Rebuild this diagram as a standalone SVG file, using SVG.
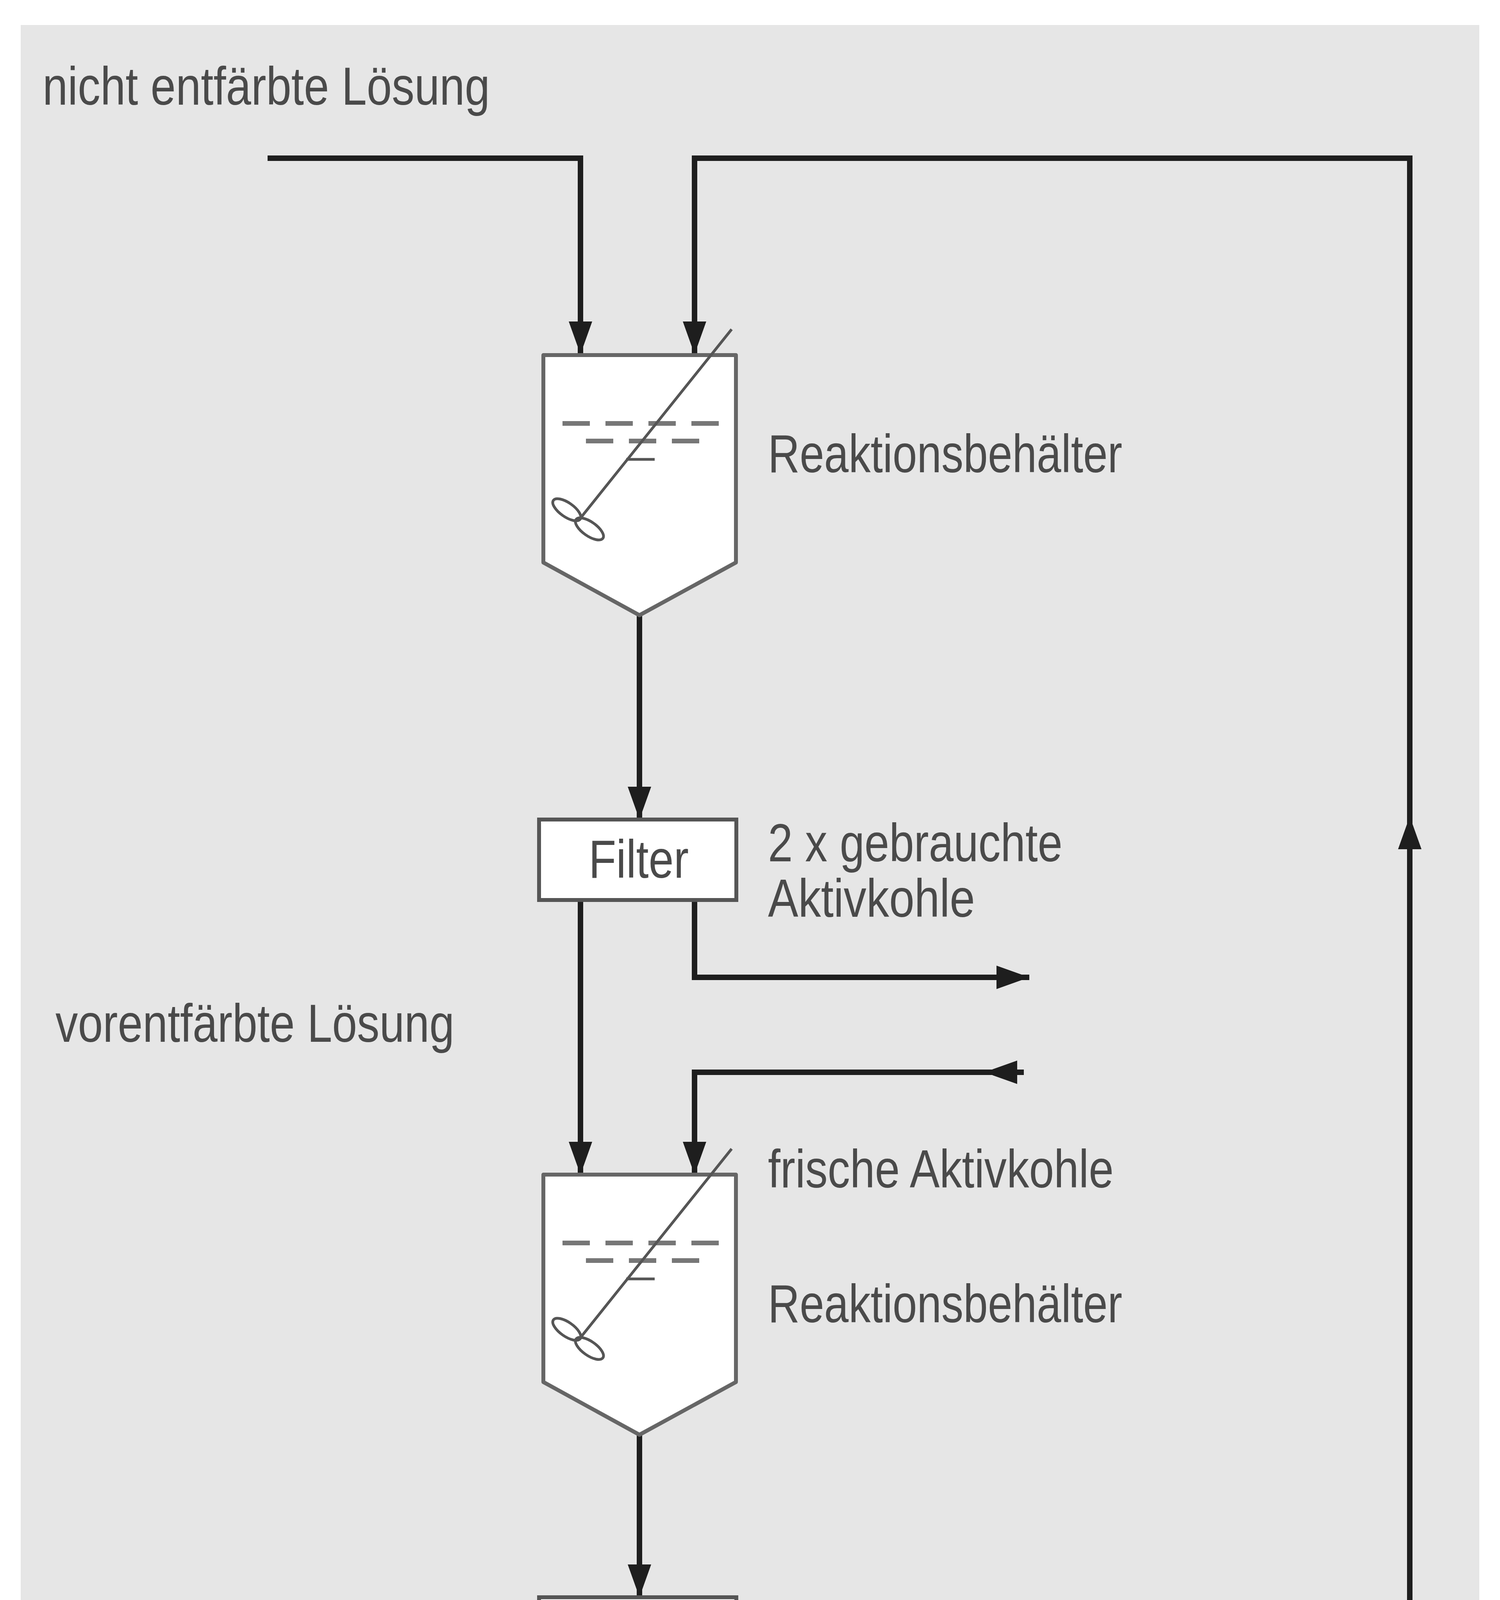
<svg xmlns="http://www.w3.org/2000/svg" width="3840" height="5583" viewBox="0 0 3840 5583">
<style>
.t{font-family:"Liberation Sans Narrow","Liberation Sans",Arial,sans-serif;font-size:138px;fill:#4a4a4a}
.ln{fill:none;stroke:#1e1e1e;stroke-width:14}
.tk{fill:#fff;stroke:#666;stroke-width:10;stroke-linejoin:round}
.bx{fill:#fff;stroke:#555;stroke-width:10}
.st{fill:none;stroke:#555;stroke-width:7}
.ds{stroke:#777;stroke-width:12;stroke-dasharray:70 40}
</style>
<defs>
<marker id="a" markerUnits="userSpaceOnUse" markerWidth="90" markerHeight="70" refX="84" refY="30" orient="auto">
<path d="M0,0 L84,30 L0,60 Z" fill="#1e1e1e"/>
</marker>
<g id="tank">
<path class="tk" d="M0,0 H493 V531 L246,666 L0,531 Z"/>
<line class="ds" x1="49" y1="175" x2="458" y2="175"/>
<line class="ds" x1="109" y1="220" x2="399" y2="220" stroke-dasharray="60 40"/>
<line class="st" x1="212" y1="267" x2="285" y2="267"/>
<line class="st" x1="482" y1="-66" x2="96" y2="416"/>
<ellipse class="st" cx="60" cy="396" rx="42" ry="18" transform="rotate(35 60 396)"/>
<ellipse class="st" cx="118" cy="445" rx="42" ry="18" transform="rotate(35 118 445)"/>
</g>
</defs>
<rect x="53" y="64" width="3734" height="5448" fill="#e6e6e6"/>
<g id="connectors">
<path class="ln" d="M685,405 H1486 V907" marker-end="url(#a)"/>
<path class="ln" d="M3609,4623 V405 H1778 V907" marker-end="url(#a)"/>
<path class="ln" d="M3609,2300 V2090" marker-end="url(#a)"/>
<path class="ln" d="M1637,1575 V2098" marker-end="url(#a)"/>
<path class="ln" d="M1486,2304 V3007" marker-end="url(#a)"/>
<path class="ln" d="M1778,2304 V2502 H2635" marker-end="url(#a)"/>
<path class="ln" d="M2621,2745 H2520" marker-end="url(#a)"/>
<path class="ln" d="M2530,2745 H1778 V3007" marker-end="url(#a)"/>
<path class="ln" d="M1637,3673 V4089" marker-end="url(#a)"/>
<path class="ln" d="M1465,4292 V4491" marker-end="url(#a)"/>
<path class="ln" d="M1778,4292 V4440" marker-end="url(#a)"/>
<path class="ln" d="M1778,4420 V4623 H3609"/>
<path class="ln" d="M1465,4729 V5174" marker-end="url(#a)"/>
</g>
<g id="tank1"><use href="#tank" x="1391" y="909"/><text class="t" x="1966" y="1209" textLength="907" lengthAdjust="spacingAndGlyphs">Reaktionsbehälter</text></g>
<g id="filter1"><rect class="bx" x="1380" y="2098" width="505" height="206"/><text class="t" x="1507" y="2247" textLength="256" lengthAdjust="spacingAndGlyphs">Filter</text></g>
<g id="tank2"><use href="#tank" x="1391" y="3007"/><text class="t" x="1966" y="3385" textLength="907" lengthAdjust="spacingAndGlyphs">Reaktionsbehälter</text></g>
<g id="filter2"><rect class="bx" x="1380" y="4089" width="505" height="203"/><text class="t" x="1507" y="4232" textLength="256" lengthAdjust="spacingAndGlyphs">Filter</text></g>
<g id="safety"><rect class="bx" x="1344" y="4491" width="231" height="238"/><text class="t" x="292" y="4640" textLength="775" lengthAdjust="spacingAndGlyphs">Sicherheitsfilter</text></g>
<g id="labels">
<text class="t" x="109" y="268" textLength="1145" lengthAdjust="spacingAndGlyphs">nicht entfärbte Lösung</text>
<text class="t" x="1966" y="2205" textLength="754" lengthAdjust="spacingAndGlyphs">2 x gebrauchte</text>
<text class="t" x="1966" y="2347" textLength="530" lengthAdjust="spacingAndGlyphs">Aktivkohle</text>
<text class="t" x="142" y="2667" textLength="1021" lengthAdjust="spacingAndGlyphs">vorentfärbte Lösung</text>
<text class="t" x="1966" y="3040" textLength="885" lengthAdjust="spacingAndGlyphs">frische Aktivkohle</text>
<text class="t" x="1966" y="4872" textLength="1298" lengthAdjust="spacingAndGlyphs">1 x gebrauchte Aktivkohle</text>
<text class="t" x="1013" y="5327" textLength="853" lengthAdjust="spacingAndGlyphs">entfärbte Lösung</text>
</g>
</svg>
